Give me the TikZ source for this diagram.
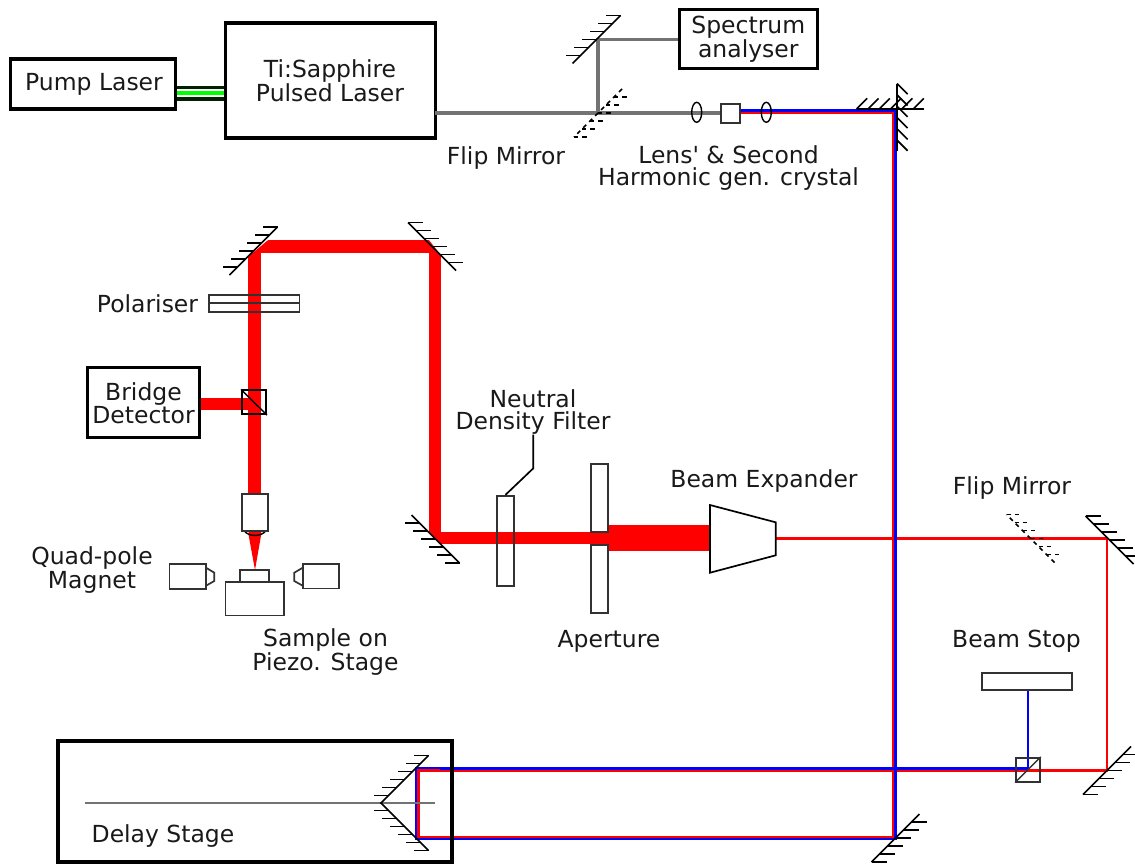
\documentclass[tikz,border=0pt]{standalone}
\usepackage{xcolor}
\usepackage{fontspec}
\setmainfont{DejaVu Sans}
\usetikzlibrary{calc}
\definecolor{beamgray}{RGB}{115,115,115}
\definecolor{pumpdark}{RGB}{0,32,0}
\definecolor{optline}{RGB}{50,50,50}
\def\px{0.025cm}
\begin{document}
\begin{tikzpicture}[x=0.025cm, y=-0.025cm,
  label/.style={font=\fontsize{16.7}{15.6}\selectfont, align=center, text=black!90, inner sep=0pt},
  box/.style={draw=black, line width=2.4pt, fill=white},
  optic/.style={draw=optline, line width=1.2pt, inner sep=0pt},
  mirror/.pic={
    \draw[pic actions, line width=1.15pt] (-24,24) -- (24,-24);
    \foreach \h in {-24,-16,...,16}
      \draw[pic actions, line width=1.15pt] ({0-\h},\h) -- ++(-15,0);
  },
  redbeam/.style={draw=red, line width=2.1pt},
  bluebeam/.style={draw=blue, line width=2.1pt},
  thickbeam/.style={draw=red, line width=8.6pt, line join=bevel}]
  \useasboundingbox (0,0) rectangle (1135,864);
  % sources and analyser
  \node[box, minimum width=165*\px, minimum height=50*\px] (pump) at (93,84) {};
  \node[box, minimum width=210*\px, minimum height=115*\px] (ti) at (330.5,80.5) {};
  \node[box, minimum width=138*\px, minimum height=59*\px] (spectrum) at (748.3,39) {};
  \draw[pumpdark, line width=10.7pt] ($(pump.east)+(0,9.3)$) -- ($(ti.west)+(0,12.8)$);
  \draw[white, line width=5.5pt] ($(pump.east)+(0,9.3)$) -- ($(ti.west)+(0,12.8)$);
  \draw[green, line width=2.9pt] ($(pump.east)+(0,9.3)$) -- ($(ti.west)+(0,12.8)$);
  \node[label] (pumptext) at (94,84) {Pump Laser};
  \node[label] (titext) at (330,81) {Ti:Sapphire\\Pulsed Laser};
  \node[label] (spectrumtext) at (748.3,39) {Spectrum\\analyser};
  % pick-off to analyser
  \coordinate (tiout) at (435,113);
  \coordinate (flipa) at (598,113);
  \coordinate (pick) at (598,39.3);
  \coordinate (shgin) at (721,113);
  \draw[beamgray, line width=2.2pt] (tiout) -- (flipa) -- (pick) -- (spectrum.west |- pick);
  \draw[beamgray, line width=2.2pt] (flipa) -- (shgin);
  \pic[draw=black] at (596.5,39.5) {mirror};
  \pic[draw=black, dashed, rotate=180] at (598,113) {mirror};
  % long delay path
  \coordinate (rtop) at (893.3,113);
  \coordinate (rbot) at (893.3,837);
  \coordinate (rretroa) at (418.7,837);
  \coordinate (rretrob) at (418.7,770.7);
  \coordinate (rturn) at (1107,770.7);
  \coordinate (rturnb) at (1107,538.5);
  \coordinate (bexp) at (775.7,538.5);
  \draw[redbeam] (740,113) -- (rtop) -- (rbot) -- (rretroa) -- (rretrob) -- (rturn) -- (rturnb) -- (bexp);
  \coordinate (btop) at (895.7,110.6);
  \coordinate (bbot) at (895.7,839);
  \coordinate (bretroa) at (416.2,839);
  \coordinate (bretrob) at (416.2,768.2);
  \coordinate (bcube) at (1028,768.2);
  \coordinate (bstop) at (1028,690.3);
  \draw[bluebeam] (740,110.6) -- (btop) -- (bbot) -- (bretroa) -- (bretrob) -- (bcube) -- (bstop);
  \draw[redbeam] (440,837) -- (rretroa) -- (rretrob) -- (440,770.7);
  \node[optic, fill=white, minimum width=19*\px, minimum height=19*\px] (shg) at (730.3,113.2) {};
  \draw[optic, black, line width=1pt] (696.7,112.3) ellipse (5 and 10);
  \draw[optic, black, line width=1pt] (766.3,112.3) ellipse (5 and 10);
  \pic[draw=black, rotate=45, xscale=-1] at (890.5,109) {mirror};
  \pic[draw=black, rotate=-45, xscale=-1] at (897,117.5) {mirror};
  \pic[draw=black, rotate=180] at (895.5,838) {mirror};
  \pic[draw=black, xscale=-1] at (1109.5,540) {mirror};
  \pic[draw=black, rotate=180] at (1107,770.5) {mirror};
  \pic[draw=black, dashed, xscale=-1] at (1030.5,538.5) {mirror};
  % beam stop and cube
  \node[optic, fill=white, minimum width=90.6*\px, minimum height=17.6*\px] (stop) at (1027,681.5) {};
  \node[optic, minimum width=24*\px, minimum height=24*\px] (cubeb) at (1028,769.7) {};
  \draw[optic, line width=1pt] (cubeb.south west) -- (cubeb.north east);
  % delay stage
  \node[draw=black, line width=2.4pt, minimum width=394*\px, minimum height=121*\px, inner sep=0pt] (stage) at (255,801.5) {};
  \draw[beamgray, line width=1.7pt] (85,803) -- (435,803);
  \pic[draw=black] at (404.5,779.5) {mirror};
  \pic[draw=black, yscale=-1] at (404.5,826.5) {mirror};
  % pump-probe path to sample
  \coordinate (apt) at (608.3,538);
  \coordinate (mc) at (435,538);
  \coordinate (md) at (435,246.5);
  \coordinate (me) at (254.5,246.5);
  \coordinate (obj) at (254.5,495);
  \coordinate (cubea) at (254,404);
  \draw[red, line width=18.5pt] (apt) -- (710,538);
  \draw[thickbeam] (apt) -- (mc) -- (md) -- (me) -- (obj);
  \fill[white] (247,257.5) -- (268.5,239.5) -- (247,239.5) -- cycle;
  \fill[white] (428.7,239.5) -- (442.5,239.5) -- (442.5,257) -- cycle;
  \fill[white] (427.5,530) -- (427.5,545.5) -- (441,545.5) -- cycle;
  \pic[draw=black] at (253.5,251) {mirror};
  \pic[draw=black, xscale=-1] at (432,246.5) {mirror};
  \pic[draw=black, yscale=-1] at (435.5,539) {mirror};
  % filter, aperture, expander
  \node[optic, minimum width=17.6*\px, minimum height=90.3*\px] (nd) at (505.5,540.8) {};
  \node[optic, fill=white, minimum width=17.6*\px, minimum height=67.7*\px] (apta) at (599.5,497.8) {};
  \node[optic, fill=white, minimum width=17.6*\px, minimum height=68*\px] (aptb) at (599.5,579) {};
  \draw[draw=black, fill=white, line width=1.2pt] (710,505) -- (775.7,522.3) -- (775.7,555.3) -- (710,572.7) -- cycle;
  % detector arm
  \node[box, minimum width=112*\px, minimum height=70*\px] (bridge) at (143.8,402.3) {};
  \node[label] (bridgetext) at (143.5,403) {Bridge\\Detector};
  \draw[red, line width=8.6pt] (bridge.east |- cubea) -- (cubea);
  \node[optic, draw=black, minimum width=24.3*\px, minimum height=24*\px] (cubec) at (254,402.3) {};
  \draw[black, line width=1pt] (cubec.north west) -- (cubec.south east);
  \node[optic, minimum width=90.3*\px, minimum height=17.3*\px] (pol) at (254.2,303.3) {};
  \draw[optic] (pol.west) -- (pol.east);
  % objective and sample
  \fill[red] (248.7,529) -- (261,529) -- (261,535.7) -- (255,570) -- (248.7,535.7) -- cycle;
  \draw[black, line width=1pt] (244.3,530.7) .. controls (248,537) and (262,537) .. (265.7,530.7);
  \node[optic, fill=white, minimum width=26.6*\px, minimum height=36.4*\px] (objective) at (255,512.5) {};
  \node[optic, fill=white, minimum width=29.6*\px, minimum height=12*\px] (sampletop) at (254.5,576) {};
  \node[optic, fill=white, minimum width=58.3*\px, minimum height=33.3*\px] (samplebase) at (254.8,598.7) {};
  \node[optic, minimum width=36.7*\px, minimum height=24.7*\px] (maga) at (187.7,576.3) {};
  \draw[optic] (206,567.7) -- (214.3,572.7) -- (214.3,581) -- (206,585.7);
  \node[optic, minimum width=36*\px, minimum height=24.3*\px] (magb) at (320.7,576.2) {};
  \draw[optic] (302.7,567.7) -- (294.3,572.7) -- (294.3,581) -- (302.7,585.7);
  % labels
  \node[label] (flipatext) at (506,158) {Flip Mirror};
  \node[label] (shgtext) at (728.5,168) {Lens\textquotesingle{} \& Second\\Harmonic gen. crystal};
  \node[label] (poltext) at (147.5,304) {Polariser};
  \node[label] (ndtext) at (533,412) {Neutral\\Density Filter};
  \coordinate (ndknee) at (533.3,468.3);
  \draw[black, line width=1.2pt] (ndtext.south -| ndknee) -- (ndknee) -- (nd.north);
  \node[label] (exptext) at (764,481) {Beam Expander};
  \node[label] (flipbtext) at (1012,488) {Flip Mirror};
  \node[label] (magtext) at (92,570) {Quad-pole\\Magnet};
  \node[label] (sampletext) at (325.5,652) {Sample on\\Piezo. Stage};
  \node[label] (apttext) at (609,641) {Aperture};
  \node[label] (stoptext) at (1016.5,641) {Beam Stop};
  \node[label] (stagetext) at (163,836) {Delay Stage};
\end{tikzpicture}
\end{document}
